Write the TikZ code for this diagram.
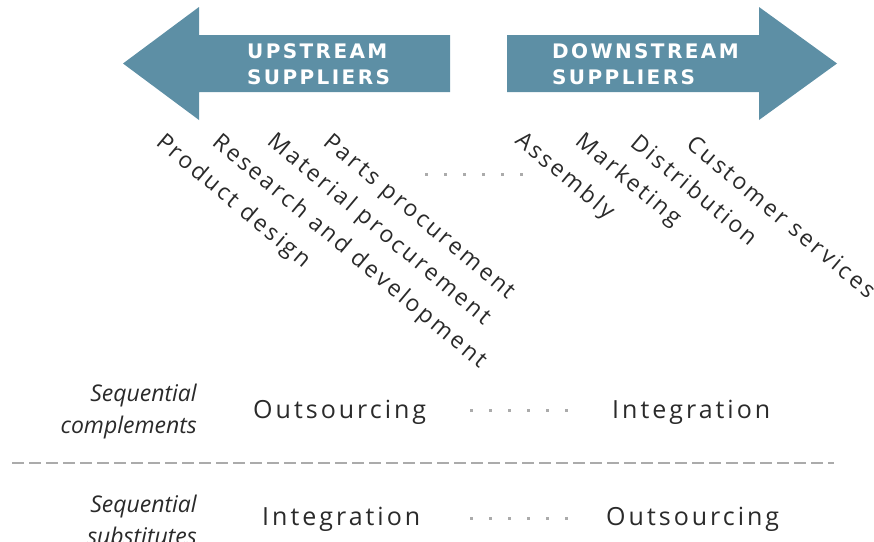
\documentclass[tikz,border=0pt]{standalone}
\usepackage{fontspec}
\setmainfont{Open Sans}
\newfontfamily\arrowfont[LetterSpace=12]{DejaVu Sans}
\newfontfamily\labelfont[LetterSpace=12]{Open Sans}
\definecolor{chainblue}{HTML}{5D8FA5}
\definecolor{inkgray}{HTML}{2A2A2A}
\definecolor{dotgray}{HTML}{ABABAB}
\tikzset{
  chainarrow/.style={fill=chainblue, draw=none},
  arrowtext/.style={text=white, font=\arrowfont\bfseries\fontsize{20}{26}\selectfont,
    align=left, anchor=base west, inner sep=0pt},
  activity/.style={text=inkgray, font=\labelfont\fontsize{23}{26}\selectfont,
    anchor=base west, rotate=-40, inner sep=0pt},
  choice/.style={text=inkgray, font=\labelfont\fontsize{25}{28}\selectfont,
    anchor=base west, inner sep=0pt},
  rowlabel/.style={text=inkgray, font=\itshape\fontsize{23}{32}\selectfont,
    align=right, anchor=east, inner sep=0pt},
  dotrow/.style={draw=dotgray, line width=3pt, dash pattern=on 3pt off 16pt},
  divider/.style={draw=dotgray, line width=2pt, dash pattern=on 12pt off 5pt}
}
\begin{document}
\begin{tikzpicture}[x=1pt,y=-1pt]
\useasboundingbox (0,0) rectangle (874,541);

% the two direction arrows
\path[chainarrow] (450,35) -- (199,35) -- (199,7) -- (123,63.5) -- (199,120)
  -- (199,92) -- (450,92) -- cycle;
\path[chainarrow] (507,35) -- (759,35) -- (759,7) -- (837,63.5) -- (759,120)
  -- (759,92) -- (507,92) -- cycle;

\node[arrowtext] (up1) at (247,58) {UPSTREAM};
\node[arrowtext] (up2) at (247,84) {SUPPLIERS};
\node[arrowtext] (down1) at (552,58) {DOWNSTREAM};
\node[arrowtext] (down2) at (552,84) {SUPPLIERS};

% value chain activities
\node[activity] (pd) at (155,144) {Product design};
\node[activity] (rd) at (211,144) {Research and development};
\node[activity] (mp) at (266,143) {Material procurement};
\node[activity] (pp) at (322,144) {Parts procurement};
\node[activity] (as) at (514,142) {Assembly};
\node[activity] (mk) at (574,143) {Marketing};
\node[activity] (di) at (629,145) {Distribution};
\node[activity] (cs) at (685,146) {Customer services};

\coordinate (ta) at (425,174);
\coordinate (tb) at (523,174);
\draw[dotrow] (ta) -- (tb);

% sequential complements
\node[rowlabel] (comp) at (197,412) {Sequential\\complements};
\node[choice] (c1) at (253,418) {Outsourcing};
\node[choice] (c2) at (612,418) {Integration};
\coordinate (ca) at (470,410);
\coordinate (cb) at (568,410);
\draw[dotrow] (ca) -- (cb);

% divider
\coordinate (la) at (12,463);
\coordinate (lb) at (834,463);
\draw[divider] (la) -- (lb);

% sequential substitutes
\node[rowlabel] (subs) at (197,520) {Sequential\\substitutes};
\node[choice] (s1) at (262,525) {Integration};
\node[choice] (s2) at (606,525) {Outsourcing};
\coordinate (sa) at (470,518);
\coordinate (sb) at (568,518);
\draw[dotrow] (sa) -- (sb);
\end{tikzpicture}
\end{document}
